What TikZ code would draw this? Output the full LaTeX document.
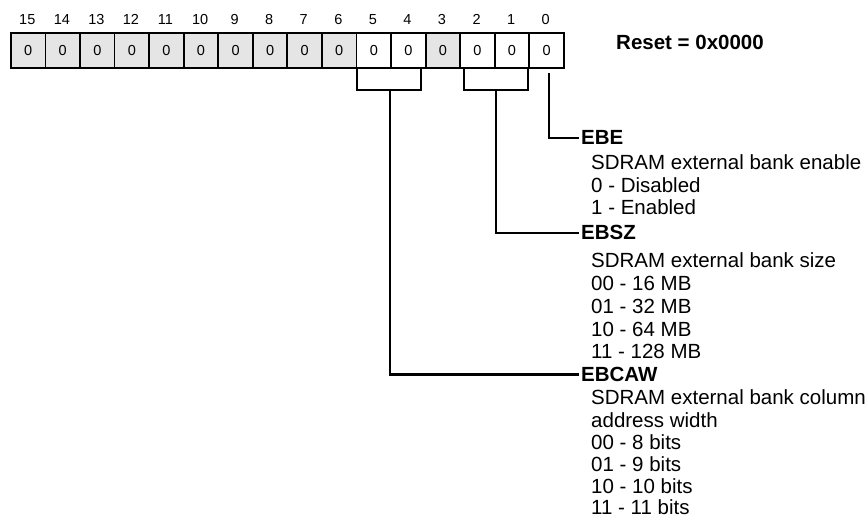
\documentclass[tikz,border=0pt]{standalone}
\usepackage{fontspec}
\setmainfont{Liberation Sans}
\definecolor{cellgray}{RGB}{229,229,229}
\begin{document}
\begin{tikzpicture}[x=1pt,y=-1pt,
  cell/.style={draw=black, line width=1.8pt, minimum width=34.56pt, minimum height=35.5pt,
    inner sep=0pt, anchor=north west, font=\fontsize{14.5}{17}\selectfont},
  bitnum/.style={inner sep=0pt, anchor=base, font=\fontsize{14.5}{17}\selectfont},
  conn/.style={line width=2.3pt, line join=miter, line cap=rect},
  head/.style={anchor=base west, inner sep=0pt, font=\bfseries\fontsize{20.5}{24}\selectfont},
  desc/.style={anchor=base west, inner sep=0pt, font=\fontsize{20.5}{24}\selectfont}]
\useasboundingbox (0,0) rectangle (868,518);
% register cells
\foreach \b/\f in {15/cellgray,14/cellgray,13/cellgray,12/cellgray,11/cellgray,10/cellgray,
  9/cellgray,8/cellgray,7/cellgray,6/cellgray,5/white,4/white,3/cellgray,2/white,1/white,0/white}{
  \node[cell, fill=\f] (c\b) at ({10+(15-\b)*34.56},32) {0};
  \node[bitnum] (n\b) at ({27.28+(15-\b)*34.56},25) {\b};
}
% reset text
\node[head] (reset) at (616,50) {Reset = 0x0000};
% field labels
\node[head] (ebe) at (581,145) {EBE};
\node[desc] (ebe1) at (591,170) {SDRAM external bank enable};
\node[desc] (ebe2) at (591,192.5) {0 - Disabled};
\node[desc] (ebe3) at (591,215) {1 - Enabled};
\node[head] (ebsz) at (581,240) {EBSZ};
\node[desc] (ebsz1) at (591,268) {SDRAM external bank size};
\node[desc] (ebsz2) at (591,290.8) {00 - 16 MB};
\node[desc] (ebsz3) at (591,313.5) {01 - 32 MB};
\node[desc] (ebsz4) at (591,336.3) {10 - 64 MB};
\node[desc] (ebsz5) at (591,359) {11 - 128 MB};
\node[head] (ebcaw) at (581,381.5) {EBCAW};
\node[desc] (ebcaw1) at (591,405) {SDRAM external bank column};
\node[desc] (ebcaw2) at (591,428) {address width};
\node[desc] (ebcaw3) at (591,450) {00 - 8 bits};
\node[desc] (ebcaw4) at (591,472) {01 - 9 bits};
\node[desc] (ebcaw5) at (591,493.5) {10 - 10 bits};
\node[desc] (ebcaw6) at (591,514.5) {11 - 11 bits};
% brackets and connectors
\coordinate (k5) at (357,70);
\coordinate (k4) at (421,70);
\coordinate (s54) at (390,90);
\coordinate (k2) at (464,70);
\coordinate (k1) at (528,70);
\coordinate (s21) at (496,90);
\coordinate (k0) at (549,74);
\draw[conn] (k5) |- (k4 |- s54) -- (k4);
\draw[conn] (k2) |- (k1 |- s21) -- (k1);
\draw[conn] (s54) |- ([xshift=-3pt]ebcaw.west);
\draw[conn] (s21) |- ([xshift=-3pt]ebsz.west);
\draw[conn] (k0) |- ([xshift=-3pt]ebe.west);
\end{tikzpicture}
\end{document}
